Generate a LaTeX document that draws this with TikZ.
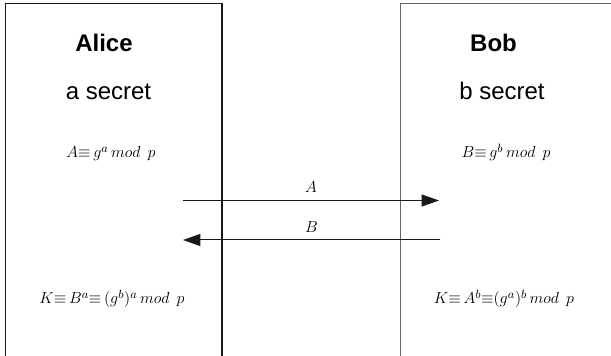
\documentclass[tikz,border=0pt]{standalone}
\usepackage{fontspec}
\setmainfont{Liberation Sans}
\usepackage{amsmath}
\usetikzlibrary{arrows.meta,positioning}

\begin{document}
\begin{tikzpicture}[
        x=0.75pt, y=-0.75pt,
        party/.style={font=\fontsize{18}{21}\selectfont\bfseries, anchor=base},
        secret/.style={font=\fontsize{18}{21}\selectfont, anchor=base},
        formula/.style={font=\fontsize{13}{15}\selectfont, anchor=base},
        wall/.style={line width=1.1pt, draw=black!90},
        msg/.style={
            -{Triangle[length=13pt,width=9pt]},
            line width=0.75pt,
            draw=black!90
        },
        msglabel/.style={font=\fontsize{13}{15}\selectfont, anchor=base}
    ]
        \useasboundingbox (0,0) rectangle (611,356);

        % Alice side
        \draw[wall] (5.5,356) |- (222,3.5) -- (222,356);
        \node[party] (alice) at (104,52) {Alice};
        \node[secret] (asecret) at (108.5,100) {a secret};
        \node[formula] (apub) at (111,158) {$A{\equiv}\,g^{a}\,mod\;\,p$};
        \node[formula] (akey) at (112,304)
            {$K{\equiv}\,B^{a}{\equiv}\,(g^{b})^{a}\,mod\;\,p$};

        % Bob side
        \draw[wall, line width=1.3pt, draw=black!60] (400.5,356) |- (611,3.5);
        \node[party] (bob) at (493.5,52) {Bob};
        \node[secret] (bsecret) at (502,100) {b secret};
        \node[formula] (bpub) at (506,158) {$B{\equiv}\,g^{b}\,mod\;\,p$};
        \node[formula] (bkey) at (504,304)
            {$K{\equiv}\,A^{b}{\equiv}(g^{a})^{b}\,mod\;\,p$};

        % Exchange of public values
        \coordinate (asend) at (183,200.5);
        \coordinate (arecv) at (439,200.5);
        \coordinate (bsend) at (440,240);
        \coordinate (brecv) at (183,240);
        \draw[msg] (asend) -- (arecv)
            node[msglabel, pos=0.5, above=2pt] (alabel) {$A$};
        \draw[msg] (bsend) -- (brecv)
            node[msglabel, pos=0.5, above=2pt] (blabel) {$B$};
    \end{tikzpicture}
\end{document}
